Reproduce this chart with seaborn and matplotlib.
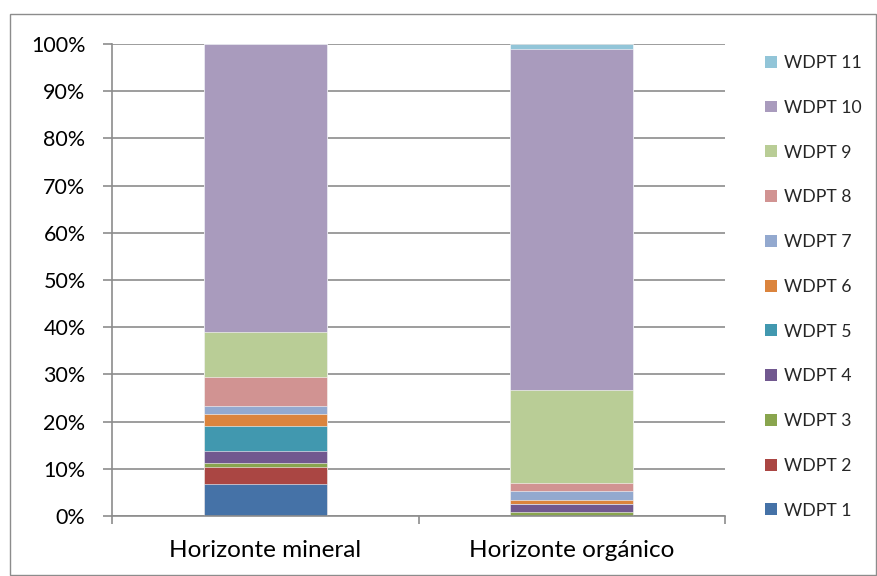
import matplotlib
matplotlib.use("Agg")
import matplotlib.pyplot as plt
from matplotlib.patches import Rectangle, Patch
from matplotlib.ticker import FixedLocator, PercentFormatter
import numpy as np
import pandas as pd
import seaborn as sns

categories = ["Horizonte mineral", "Horizonte orgánico"]
series_names = ["WDPT 1", "WDPT 2", "WDPT 3", "WDPT 4", "WDPT 5", "WDPT 6",
                "WDPT 7", "WDPT 8", "WDPT 9", "WDPT 10", "WDPT 11"]
mineral = [6.83, 3.52, 0.92, 2.46, 5.35, 2.54, 1.76, 6.06, 9.64, 60.92, 0.0]
organico = [0.0, 0.0, 0.85, 1.76, 0.0, 0.85, 1.83, 1.76, 19.72, 72.23, 1.0]
colors = ["#4572A7", "#AA4643", "#89A54E", "#71588F", "#4198AF", "#DB843D",
          "#93A9CF", "#D19392", "#B9CD96", "#A99BBD", "#92C5D8"]
yticks = [0, 10, 20, 30, 40, 50, 60, 70, 80, 90, 100]

sns.set_theme(style="white")
plt.rcParams["font.family"] = ["Lato", "DejaVu Sans"]

grid_color = "#8C8C8C"

fig = plt.figure(figsize=(8.77, 5.76), dpi=100)
ax = fig.add_axes([112 / 877, 60 / 576, 613 / 877, 472 / 576])

# outer chart frame
fig.patches.append(Rectangle((10 / 877, 1 / 576), 866 / 877, 561 / 576,
                             transform=fig.transFigure, fill=False,
                             edgecolor="#8C8C8C", linewidth=1.0))

vals = np.array([mineral, organico])
cum = np.cumsum(vals, axis=1)

# stacked bars: draw cumulative totals from the top layer down
for i in range(len(series_names) - 1, -1, -1):
    df = pd.DataFrame({"cat": categories, "val": cum[:, i]})
    sns.barplot(data=df, x="cat", y="val", color=colors[i], width=0.4,
                saturation=1, ax=ax, edgecolor="white", linewidth=0.4,
                order=categories)

ax.set_xlim(-0.5, 1.5)
ax.set_ylim(0, 100)
ax.set_yticks(yticks)
ax.yaxis.set_major_formatter(PercentFormatter(decimals=0))
ax.set_axisbelow(True)
ax.yaxis.grid(True, color=grid_color, linewidth=1.2)
ax.xaxis.grid(False)
ax.set_xlabel("")
ax.set_ylabel("")

for side in ["top", "right"]:
    ax.spines[side].set_visible(False)
for side in ["left", "bottom"]:
    ax.spines[side].set_color(grid_color)
    ax.spines[side].set_linewidth(1.2)

ax.tick_params(axis="y", which="major", direction="out", length=6.5,
               width=1.2, color=grid_color, labelsize=15.5, pad=12.5,
               labelcolor="#000000", left=True)
ax.tick_params(axis="x", which="major", length=0, labelsize=17.5, pad=17,
               labelcolor="#000000")
ax.xaxis.set_minor_locator(FixedLocator([-0.5, 0.5, 1.5]))
ax.tick_params(axis="x", which="minor", direction="out", length=6,
               width=1.2, color=grid_color, bottom=True)

handles = [Patch(facecolor=colors[i], edgecolor="none", label=series_names[i])
           for i in range(len(series_names) - 1, -1, -1)]
fig.legend(handles=handles, loc="upper left",
           bbox_to_anchor=(758 / 877, 1 - 48 / 576), frameon=False,
           fontsize=12.7, handlelength=0.65, handleheight=0.65,
           handletextpad=0.45, labelspacing=1.63, borderaxespad=0)

fig.savefig("out.png", dpi=100)
